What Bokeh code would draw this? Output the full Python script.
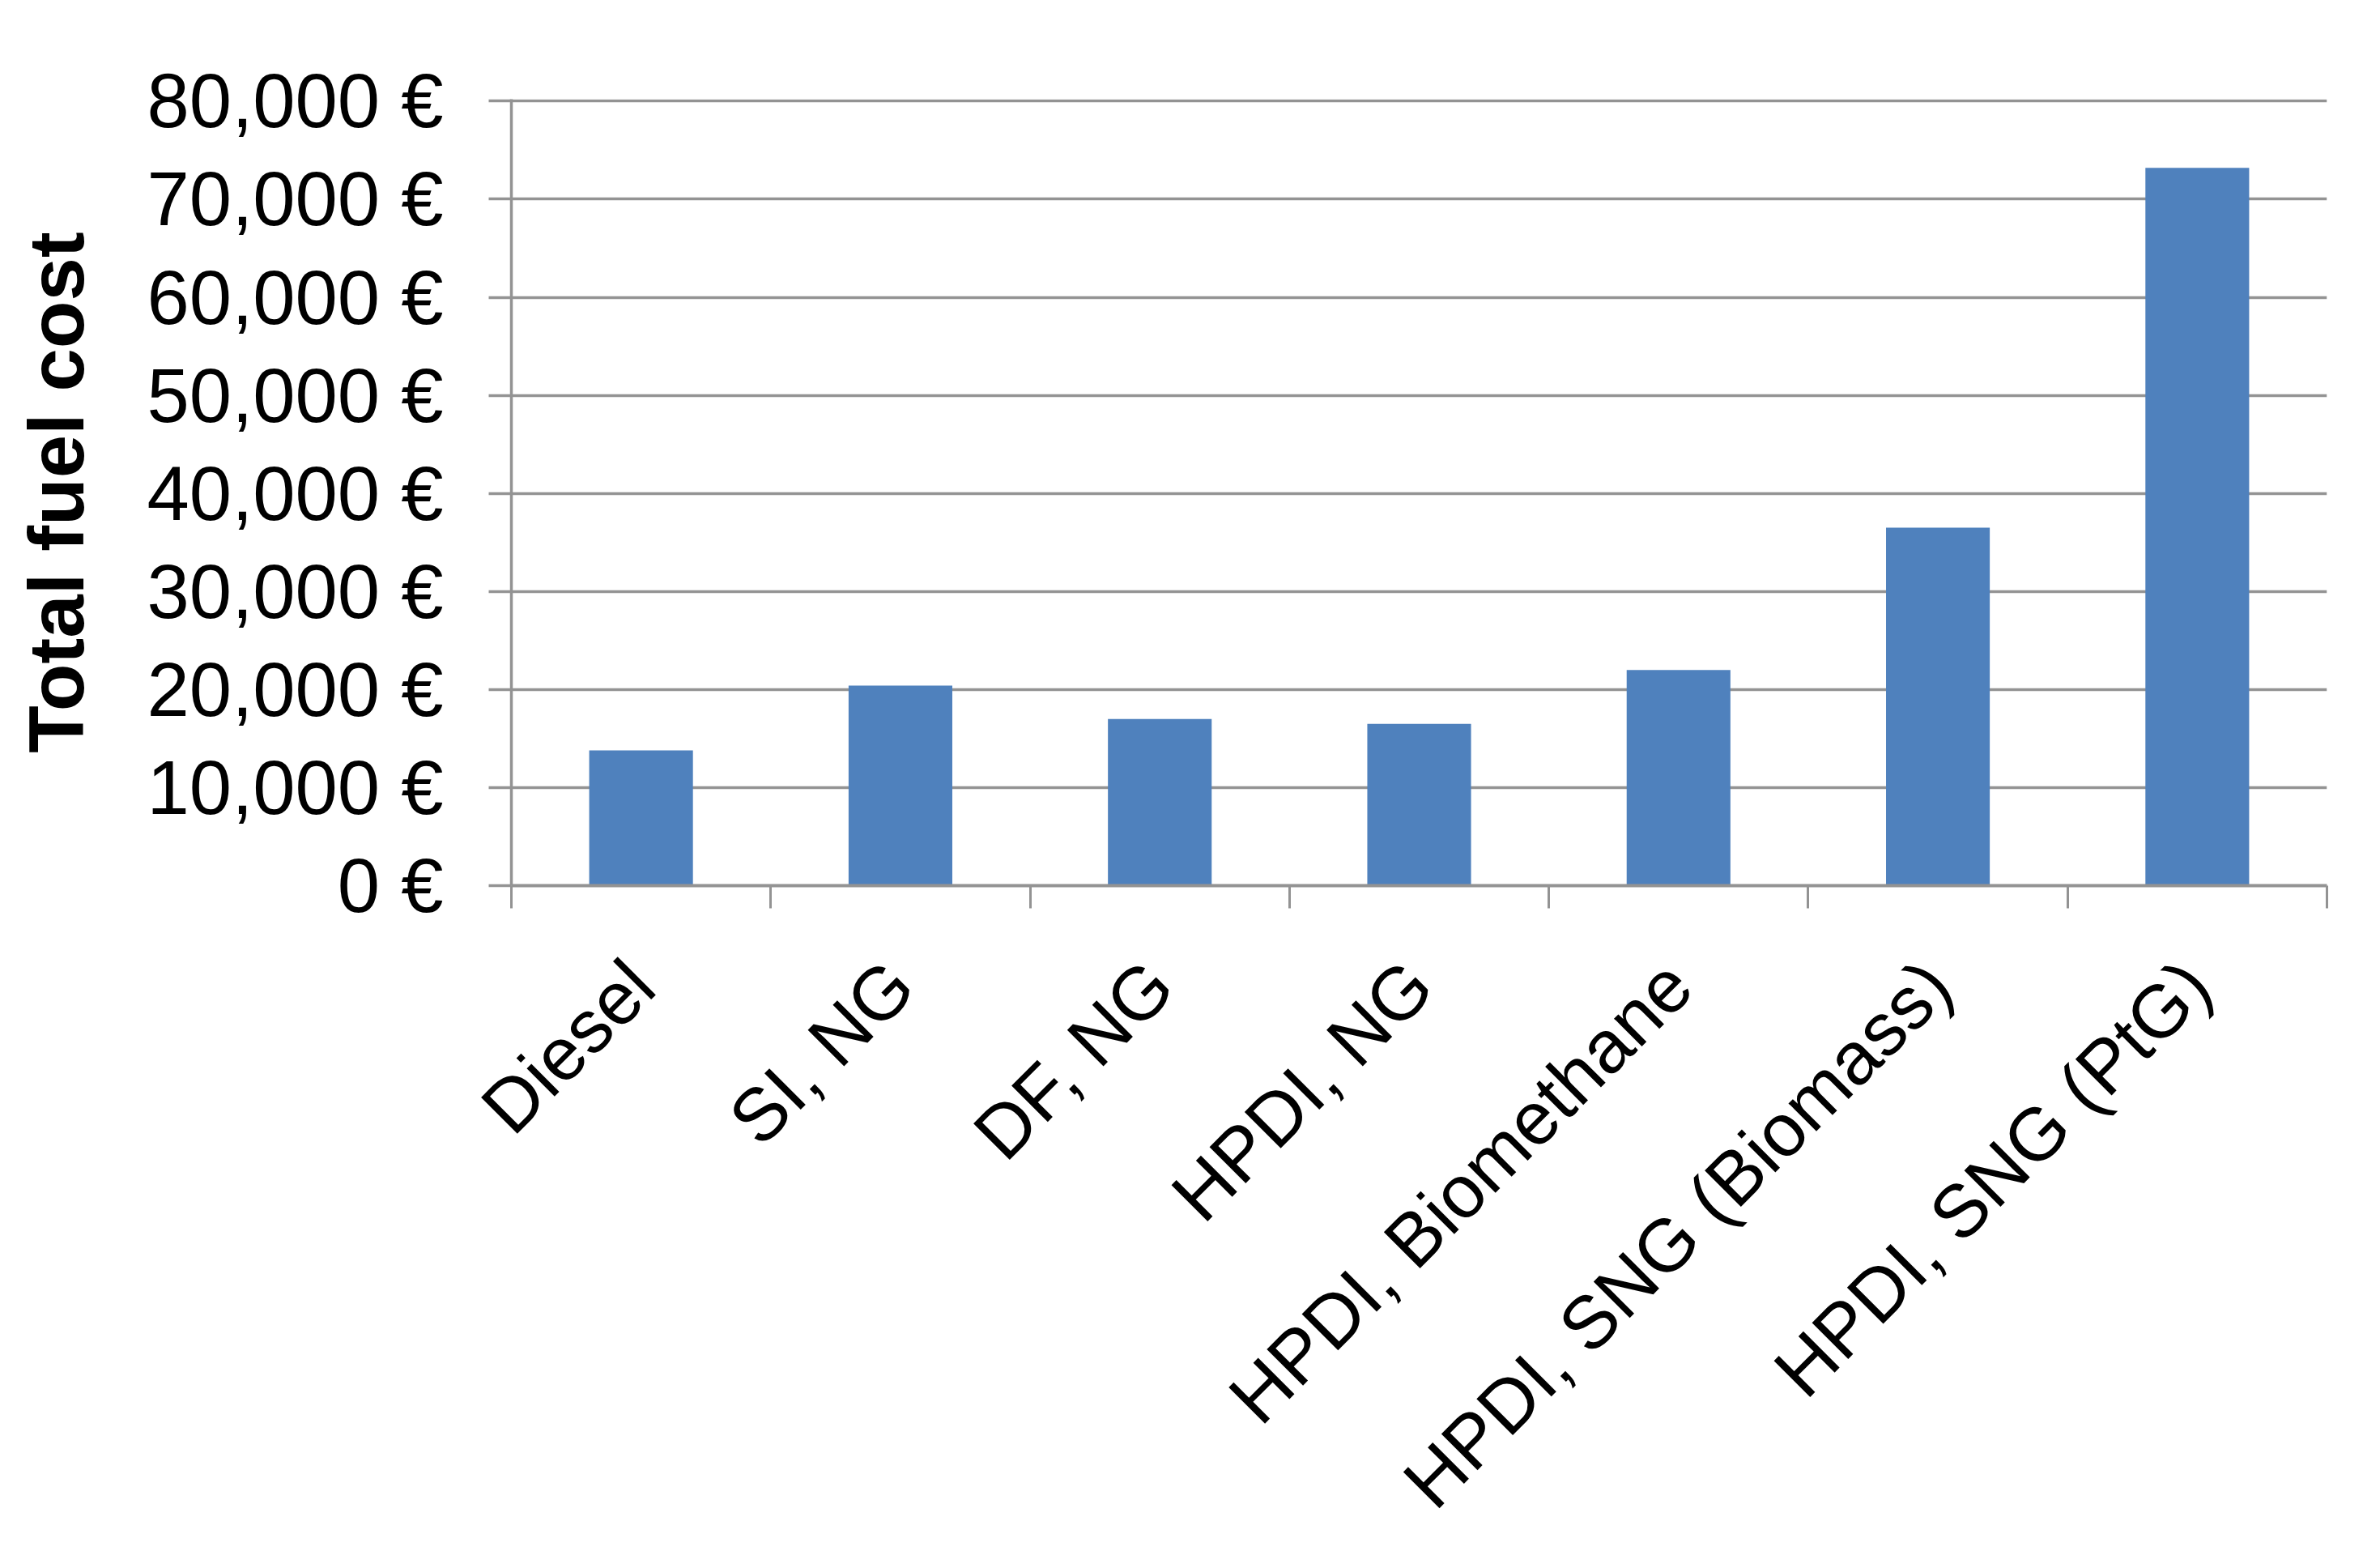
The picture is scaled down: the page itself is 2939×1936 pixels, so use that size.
import numpy as np
from bokeh.plotting import figure
from bokeh.models import FixedTicker, Range1d, ColumnDataSource
from bokeh.embed import file_html
from bokeh.resources import INLINE

categories = ["Diesel", "SI, NG", "DF, NG", "HPDI, NG", "HPDI, Biomethane",
              "HPDI, SNG (Biomass)", "HPDI, SNG (PtG)"]
fuel_cost = [13800, 20400, 17000, 16500, 22000, 36500, 73200]
y_ticks = [0, 10000, 20000, 30000, 40000, 50000, 60000, 70000, 80000]

n = len(categories)
centers = [i + 0.5 for i in range(n)]
bounds = list(range(n + 1))

src = ColumnDataSource(dict(x=centers, top=fuel_cost, cat=categories))

W, H = 2923, 1920
p = figure(width=W, height=H, output_backend="svg", toolbar_location=None,
           x_range=Range1d(0, n), y_range=Range1d(0, 80200),
           min_border_left=631, min_border_right=50, min_border_top=122,
           min_border_bottom=820)
p.outline_line_color = None
p.background_fill_color = "white"
p.border_fill_color = "white"

p.vbar(x="x", top="top", width=0.4, bottom=0, source=src,
       fill_color="#4F81BD", line_color=None)

FONT = "Liberation Sans"
GRAY = "#939393"

# y axis
ya = p.yaxis[0]
ya.ticker = FixedTicker(ticks=y_ticks)
ya.major_label_overrides = {v: f"{v:,} \u20ac" for v in y_ticks}
ya.major_label_text_font = FONT
ya.major_label_text_font_size = "94px"
ya.major_label_text_color = "black"
ya.major_tick_out = 28
ya.major_tick_in = 0
ya.minor_tick_out = 0
ya.minor_tick_in = 0
ya.major_tick_line_color = GRAY
ya.major_tick_line_width = 3.5
ya.axis_line_color = GRAY
ya.axis_line_width = 3.5
ya.major_label_standoff = 56
ya.axis_label = "Total fuel cost"
ya.axis_label_text_font = FONT
ya.axis_label_text_font_style = "bold"
ya.axis_label_text_font_size = "96px"
ya.axis_label_text_color = "black"
ya.axis_label_standoff = 56

# x axis: labels at centers (major), ticks at boundaries (minor)
xa = p.xaxis[0]
xa.ticker = FixedTicker(ticks=centers, minor_ticks=bounds)
xa.major_label_overrides = {c: lab for c, lab in zip(centers, categories)}
xa.major_label_orientation = np.pi / 4
xa.major_label_text_font = FONT
xa.major_label_text_font_size = "92px"
xa.major_label_text_color = "black"
xa.major_tick_line_color = None
xa.major_tick_out = 0
xa.major_tick_in = 0
xa.minor_tick_out = 28
xa.minor_tick_in = 0
xa.minor_tick_line_color = GRAY
xa.minor_tick_line_width = 3
xa.axis_line_color = GRAY
xa.axis_line_width = 4
xa.major_label_standoff = 80

p.xgrid.grid_line_color = None
p.ygrid.grid_line_color = GRAY
p.ygrid.grid_line_width = 3.5

open("out.html", "w").write(file_html(p, INLINE))
